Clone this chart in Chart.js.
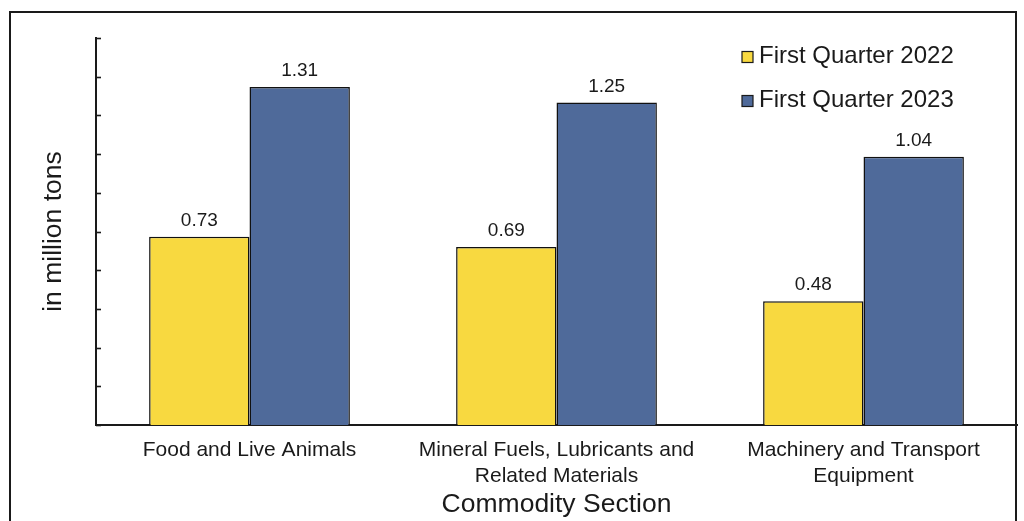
<!DOCTYPE html>
<html>
<head>
<meta charset="utf-8">
<script src="https://cdn.jsdelivr.net/npm/chart.js@4/dist/chart.umd.min.js"></script>
<style>
  html, body { margin: 0; padding: 0; background: #ffffff; }
  #wrap { position: relative; width: 1024px; height: 521px; overflow: hidden; }
  #frame { position: absolute; left: 9px; top: 11px; width: 1008px; height: 540px; border: 2px solid #1a1a1a; box-sizing: border-box; }
  canvas { position: absolute; left: 0; top: 0; }
</style>
</head>
<body>
<div id="wrap">
  <div id="frame"></div>
  <canvas id="c" width="1024" height="521"></canvas>
</div>
<script>
const categories = [
  "Food and Live Animals",
  ["Mineral Fuels, Lubricants and", "Related Materials"],
  ["Machinery and Transport", "Equipment"]
];
const seriesNames = ["First Quarter 2022", "First Quarter 2023"];
const q1_2022 = [0.73, 0.69, 0.48];
const q1_2023 = [1.31, 1.25, 1.04];
const yMin = 0, yMax = 1.5, yStep = 0.15;

const FONT = "'Liberation Sans', Arial, Helvetica, sans-serif";
const INK = "#1a1a1a";

// value labels above each bar
const valueLabels = {
  id: "valueLabels",
  afterDatasetsDraw(chart) {
    const ctx = chart.ctx;
    ctx.save();
    ctx.font = "19px " + FONT;
    ctx.fillStyle = INK;
    ctx.textAlign = "center";
    ctx.textBaseline = "middle";
    chart.data.datasets.forEach((ds, i) => {
      chart.getDatasetMeta(i).data.forEach((bar, j) => {
        ctx.fillText(ds.data[j].toFixed(2), bar.x, bar.y - 16);
      });
    });
    ctx.restore();
  }
};

// inward tick marks on the value axis and the closing tick on the category axis
const axisTicks = {
  id: "axisTicks",
  afterDraw(chart) {
    const ctx = chart.ctx;
    const y = chart.scales.y, x = chart.scales.x;
    ctx.save();
    ctx.strokeStyle = INK;
    ctx.lineWidth = 1.6;
    y.ticks.forEach(t => {
      const py = Math.round(y.getPixelForValue(t.value)) + 0.5;
      ctx.beginPath();
      ctx.moveTo(y.right, py);
      ctx.lineTo(y.right + 5, py);
      ctx.stroke();
    });
    ctx.beginPath();
    ctx.moveTo(x.right - 1, x.top);
    ctx.lineTo(x.right - 1, x.top - 5);
    ctx.stroke();
    ctx.restore();
  }
};

// legend in the upper right of the plot
const boxLegend = {
  id: "boxLegend",
  afterDraw(chart) {
    const ctx = chart.ctx;
    ctx.save();
    ctx.font = "24px " + FONT;
    ctx.textBaseline = "middle";
    ctx.textAlign = "left";
    chart.data.datasets.forEach((ds, i) => {
      const cy = 57 + i * 44;
      ctx.fillStyle = ds.backgroundColor;
      ctx.fillRect(742, cy - 5.5, 11, 11);
      ctx.strokeStyle = INK;
      ctx.lineWidth = 1.2;
      ctx.strokeRect(742, cy - 5.5, 11, 11);
      ctx.fillStyle = INK;
      ctx.fillText(ds.label, 759, cy - 1);
    });
    ctx.restore();
  }
};

new Chart(document.getElementById("c"), {
  type: "bar",
  data: {
    labels: categories,
    datasets: [
      { label: seriesNames[0], data: q1_2022, backgroundColor: "#F8D940", borderColor: "#111111", borderWidth: 1.5 },
      { label: seriesNames[1], data: q1_2023, backgroundColor: "#4F6A9A", borderColor: "#111111", borderWidth: 1.5 }
    ]
  },
  options: {
    responsive: false,
    animation: false,
    layout: { padding: { left: 0, right: 7, top: 38, bottom: 0 } },
    datasets: { bar: { categoryPercentage: 0.654, barPercentage: 1.0 } },
    plugins: { legend: { display: false }, tooltip: { enabled: false } },
    scales: {
      x: {
        grid: { display: false, drawTicks: false },
        border: { display: true, color: INK, width: 2 },
        ticks: { color: INK, font: { family: FONT, size: 21 }, padding: 13, maxRotation: 0, autoSkip: false },
        title: { display: true, text: "Commodity Section", color: INK, font: { family: FONT, size: 26.5 }, padding: { top: 0, bottom: 0 } },
        afterFit(s) { s.height = 96; }
      },
      y: {
        min: yMin, max: yMax,
        ticks: { display: false, stepSize: yStep },
        grid: { display: false, drawTicks: false },
        border: { display: true, color: INK, width: 2 },
        title: { display: true, text: "in million tons", color: INK, font: { family: FONT, size: 26.5 }, padding: { top: 38, bottom: 0 } },
        afterFit(s) { s.width = 96; }
      }
    }
  },
  plugins: [valueLabels, axisTicks, boxLegend]
});
</script>
</body>
</html>
